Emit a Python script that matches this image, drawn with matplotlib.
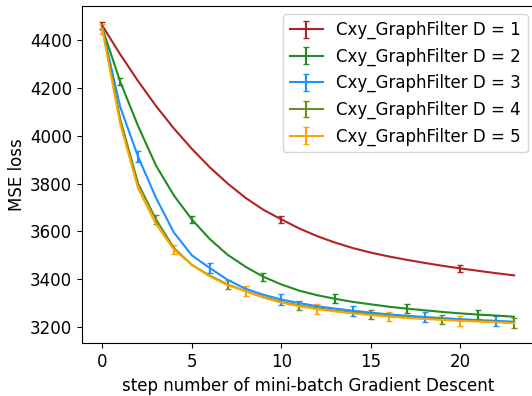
import matplotlib
matplotlib.use("Agg")
import matplotlib.pyplot as plt
import numpy as np

steps = np.arange(24)

loss_d1 = [4460, 4340, 4228, 4124, 4030, 3945, 3868, 3800, 3740, 3690, 3650, 3612,
           3580, 3553, 3530, 3511, 3495, 3481, 3468, 3456, 3445, 3435, 3425, 3416]
loss_d2 = [4450, 4226, 4040, 3875, 3750, 3650, 3568, 3502, 3452, 3410, 3378, 3352,
           3333, 3318, 3305, 3295, 3285, 3277, 3270, 3263, 3257, 3252, 3248, 3243]
loss_d3 = [4450, 4120, 3912, 3740, 3595, 3500, 3447, 3397, 3360, 3335, 3315, 3300,
           3287, 3277, 3268, 3260, 3253, 3247, 3242, 3237, 3233, 3229, 3226, 3222]
loss_d4 = [4450, 4070, 3800, 3650, 3530, 3460, 3415, 3378, 3350, 3325, 3305, 3290,
           3278, 3268, 3260, 3253, 3246, 3240, 3236, 3232, 3228, 3225, 3222, 3218]
loss_d5 = [4445, 4050, 3780, 3630, 3524, 3460, 3412, 3375, 3350, 3323, 3302, 3287,
           3275, 3265, 3257, 3250, 3244, 3238, 3234, 3230, 3226, 3223, 3220, 3216]

err_d1 = [14] * 24
err_d2 = [16, 16, 14, 16, 16, 14, 16, 16, 16, 16, 16, 16,
          16, 18, 18, 18, 18, 20, 20, 20, 20, 20, 20, 20]
err_d3 = [22] * 24
err_d4 = [20] * 24
err_d5 = [20] * 24

series = [
    ("Cxy_GraphFilter D = 1", loss_d1, err_d1, "firebrick", 10),
    ("Cxy_GraphFilter D = 2", loss_d2, err_d2, "forestgreen", (1, 4)),
    ("Cxy_GraphFilter D = 3", loss_d3, err_d3, "dodgerblue", (2, 4)),
    ("Cxy_GraphFilter D = 4", loss_d4, err_d4, "olivedrab", (3, 4)),
    ("Cxy_GraphFilter D = 5", loss_d5, err_d5, "orange", (0, 4)),
]

plt.rcParams["font.size"] = 12
fig = plt.figure(figsize=(5.32, 3.96), dpi=100)
# axes run just past the right edge of the canvas
ax = fig.add_axes([81.7 / 532, 52.7 / 396, 453 / 532, 337.3 / 396])

for name, y, e, c, every in series:
    ax.errorbar(steps, y, yerr=e, color=c, capsize=2.5, errorevery=every,
                linewidth=1.5, label=name)

ax.set_xlim(-1.15, 24.15)
ax.set_ylim(3132, 4542)
ax.set_xticks([0, 5, 10, 15, 20])
ax.set_yticks([3200, 3400, 3600, 3800, 4000, 4200, 4400])
ax.set_xlabel("step number of mini-batch Gradient Descent")
ax.set_ylabel("MSE loss", labelpad=2.5)
ax.legend(loc="upper right", bbox_to_anchor=(536 / 532, 390 / 396),
          bbox_transform=fig.transFigure)

fig.savefig("out.png", dpi=100)
